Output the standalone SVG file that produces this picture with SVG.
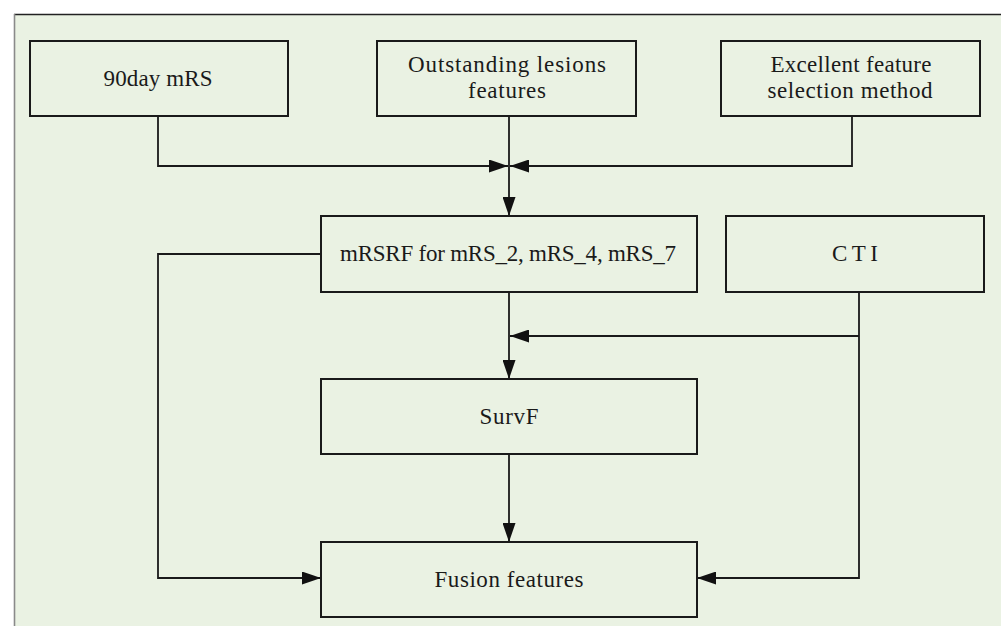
<svg xmlns="http://www.w3.org/2000/svg" width="1001" height="626" viewBox="0 0 1001 626">
  <style>
    .box { fill: none; stroke: #1a1a1a; stroke-width: 2; }
    .lbl { font-family: 'Liberation Serif', 'DejaVu Serif', serif; font-size: 23px; fill: #1a1a1a; text-anchor: middle; }
    .wire { fill: none; stroke: #1a1a1a; stroke-width: 1.8; }
  </style>
  <defs>
    <marker id="arrow" viewBox="0 0 19 13" refX="19" refY="6.5" markerWidth="19" markerHeight="13" markerUnits="userSpaceOnUse" orient="auto">
      <path d="M0,0 L19,6.5 L0,13 Z" fill="#111"/>
    </marker>
  </defs>

  <!-- page background and frame -->
  <rect x="0" y="0" width="1001" height="626" fill="#ffffff"/>
  <rect x="14" y="14" width="1000" height="620" fill="#eaf2e3"/>
  <line x1="14" y1="14.5" x2="1001" y2="14.5" stroke="#222" stroke-width="1.6"/>
  <line x1="14.5" y1="14" x2="14.5" y2="626" stroke="#8a8a8a" stroke-width="1.6"/>

  <!-- connectors -->
  <g id="connectors">
    <path class="wire" d="M158,116 V166 H508" marker-end="url(#arrow)"/>
    <path class="wire" d="M852,116 V166 H510" marker-end="url(#arrow)"/>
    <path class="wire" d="M509,116 V216" marker-end="url(#arrow)"/>
    <path class="wire" d="M509,292 V379" marker-end="url(#arrow)"/>
    <path class="wire" d="M859,336 H510" marker-end="url(#arrow)"/>
    <path class="wire" d="M859,292 V578 H697" marker-end="url(#arrow)"/>
    <path class="wire" d="M321,254 H158 V578 H321" marker-end="url(#arrow)"/>
    <path class="wire" d="M509,454 V542" marker-end="url(#arrow)"/>
  </g>

  <g id="node-90day">
    <rect class="box" x="30" y="41" width="258" height="75"/>
    <text class="lbl" x="158" y="86" textLength="109">90day mRS</text>
  </g>
  <g id="node-lesions">
    <rect class="box" x="377" y="41" width="259" height="75"/>
    <text class="lbl" x="507" y="72" textLength="198">Outstanding lesions</text>
    <text class="lbl" x="507" y="98" textLength="78">features</text>
  </g>
  <g id="node-selection">
    <rect class="box" x="721" y="41" width="259" height="75"/>
    <text class="lbl" x="851" y="72" textLength="161">Excellent feature</text>
    <text class="lbl" x="850" y="98" textLength="165">selection method</text>
  </g>
  <g id="node-mrsrf">
    <rect class="box" x="321" y="216" width="376" height="76"/>
    <text class="lbl" x="508" y="261" textLength="336">mRSRF for mRS_2, mRS_4, mRS_7</text>
  </g>
  <g id="node-cti">
    <rect class="box" x="726" y="216" width="258" height="76"/>
    <text class="lbl" x="855" y="261" textLength="46">C T I</text>
  </g>
  <g id="node-survf">
    <rect class="box" x="321" y="379" width="376" height="75"/>
    <text class="lbl" x="509" y="424" textLength="59">SurvF</text>
  </g>
  <g id="node-fusion">
    <rect class="box" x="321" y="542" width="376" height="75"/>
    <text class="lbl" x="509" y="587" textLength="149">Fusion features</text>
  </g>
</svg>
